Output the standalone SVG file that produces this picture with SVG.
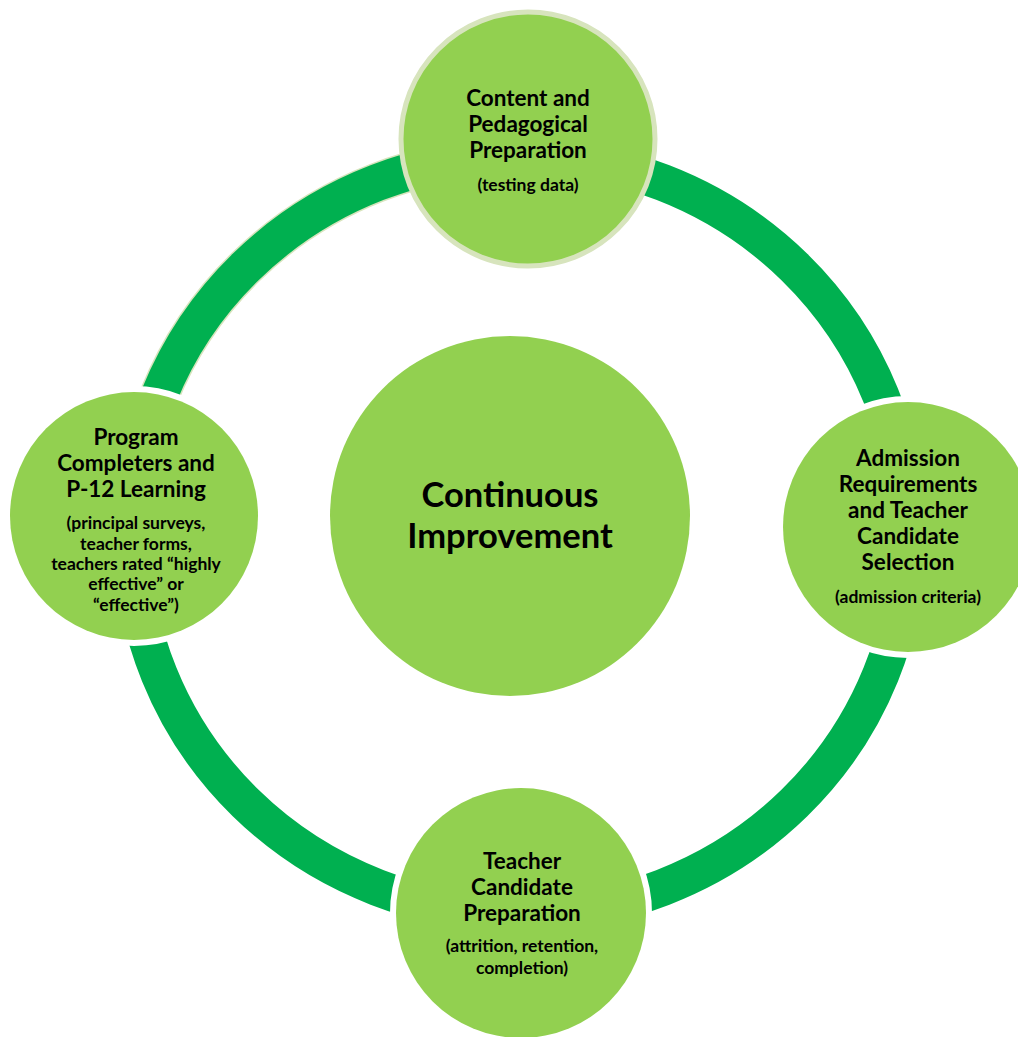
<svg xmlns="http://www.w3.org/2000/svg" width="1018" height="1037" viewBox="0 0 1018 1037">
<style>
.ring{fill:none;stroke:#00b050;stroke-width:37}
.ringedge{fill:none;stroke:#d7e4bd;stroke-width:40}
.node{fill:#92d050;stroke:#ffffff;stroke-width:12;paint-order:stroke}
.topnode{fill:#92d050;stroke:#d7e4bd;stroke-width:5}
.hub{fill:#92d050}
text{font-family:Lato,"Liberation Sans",sans-serif;font-weight:bold;fill:#000;text-anchor:middle}
.t{font-size:22.5px}
.s{font-size:17.5px}
.c{font-size:34.5px}
</style>
<rect width="1018" height="1037" fill="#ffffff"/>
<g id="connectors">
<path class="ringedge" d="M132,535 A388,379 0 0,1 520,156"/>
<path class="ring" d="M132,535 A388,379 0 0,1 520,156"/>
<path class="ring" d="M520,156 A388,379 0 0,1 908,535"/>
<path class="ring" d="M908,535 A388,379 0 0,1 520,914"/>
<path class="ring" d="M520,914 A388,379 0 0,1 132,535"/>
</g>
<g id="hub">
<circle class="hub" cx="510" cy="516" r="180"/>
<text class="c" x="510" y="507">Continuous</text>
<text class="c" x="510" y="548">Improvement</text>
</g>
<g id="node-content">
<circle class="topnode" cx="528" cy="139" r="127"/>
<text class="t" x="528" y="106">Content and</text>
<text class="t" x="528" y="132">Pedagogical</text>
<text class="t" x="528" y="158">Preparation</text>
<text class="s" x="528" y="191">(testing data)</text>
</g>
<g id="node-admission">
<circle class="node" cx="908" cy="527" r="125"/>
<text class="t" x="908" y="466">Admission</text>
<text class="t" x="908" y="492">Requirements</text>
<text class="t" x="908" y="518">and Teacher</text>
<text class="t" x="908" y="544">Candidate</text>
<text class="t" x="908" y="570">Selection</text>
<text class="s" x="908" y="603">(admission criteria)</text>
</g>
<g id="node-preparation">
<circle class="node" cx="521" cy="913" r="125"/>
<text class="t" x="522" y="869">Teacher</text>
<text class="t" x="522" y="895">Candidate</text>
<text class="t" x="522" y="921">Preparation</text>
<text class="s" x="522" y="952">(attrition, retention,</text>
<text class="s" x="522" y="974">completion)</text>
</g>
<g id="node-completers">
<circle class="node" cx="134" cy="516" r="124"/>
<text class="t" x="136" y="445">Program</text>
<text class="t" x="136" y="471">Completers and</text>
<text class="t" x="136" y="497">P-12 Learning</text>
<text class="s" x="136" y="529">(principal surveys,</text>
<text class="s" x="136" y="550">teacher forms,</text>
<text class="s" x="136" y="570">teachers rated “highly</text>
<text class="s" x="136" y="590">effective” or</text>
<text class="s" x="136" y="611">“effective”)</text>
</g>
</svg>
